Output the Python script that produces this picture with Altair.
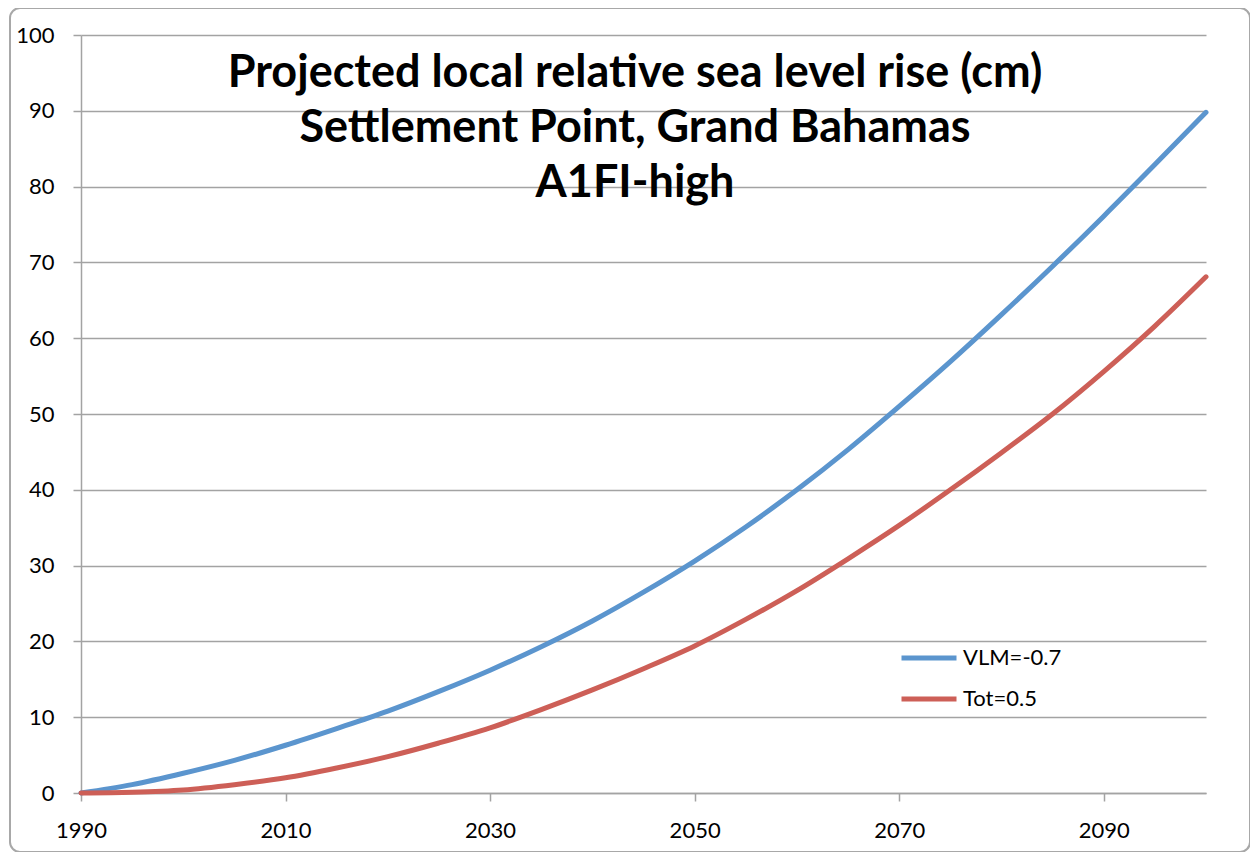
import altair as alt
import pandas as pd

# ---- data ----
years = [1990, 1995, 2000, 2005, 2010, 2015, 2020, 2025, 2030, 2035, 2040, 2045,
         2050, 2055, 2060, 2065, 2070, 2075, 2080, 2085, 2090, 2095, 2100]
vlm_values = [0.0, 1.1, 2.6, 4.3, 6.3, 8.5, 10.8, 13.4, 16.2, 19.3, 22.7, 26.5,
              30.6, 35.1, 40.0, 45.3, 51.0, 56.9, 63.1, 69.5, 76.1, 82.9, 89.8]
tot_values = [0.0, 0.1, 0.4, 1.1, 2.0, 3.3, 4.8, 6.6, 8.6, 11.0, 13.6, 16.4,
              19.4, 22.9, 26.7, 30.9, 35.3, 40.0, 44.9, 50.0, 55.6, 61.6, 68.1]
series_names = ["VLM=-0.7", "Tot=0.5"]
series_colors = ["#5B95CE", "#CD5F57"]
x_tick_values = [1990, 2010, 2030, 2050, 2070, 2090]
y_tick_values = [0, 10, 20, 30, 40, 50, 60, 70, 80, 90, 100]
title_lines = ["Projected local relative sea level rise (cm)",
               "Settlement Point, Grand Bahamas",
               "A1FI-high"]

df = pd.DataFrame({
    "year": years + years,
    "value": vlm_values + tot_values,
    "series": [series_names[0]] * len(years) + [series_names[1]] * len(years),
    "order": [0] * len(years) + [1] * len(years),
})

W, H = 1125, 758
GRID = "#a3a3a3"
FONT = "Lato"

lines = alt.Chart(df).mark_line(
    strokeWidth=5, strokeCap="round", strokeJoin="round", interpolate="monotone"
).encode(
    x=alt.X("year:Q",
            scale=alt.Scale(domain=[1990, 2100], nice=False, zero=False),
            axis=alt.Axis(values=x_tick_values, format="d", title=None, grid=False,
                          domainColor=GRID, domainWidth=1.5, tickColor=GRID, tickWidth=1.5,
                          tickSize=8, labelPadding=19, labelFontSize=22, labelFont=FONT,
                          labelColor="black", labelFlush=False)),
    y=alt.Y("value:Q",
            scale=alt.Scale(domain=[0, 100], nice=False, zero=True),
            axis=alt.Axis(values=y_tick_values, title=None, grid=True, gridColor=GRID,
                          gridWidth=1.5, domainColor=GRID, domainWidth=1.5, tickColor=GRID,
                          tickWidth=1.5, tickSize=8, labelPadding=19, labelFontSize=22,
                          labelFont=FONT, labelColor="black")),
    color=alt.Color("series:N",
                    scale=alt.Scale(domain=series_names, range=series_colors),
                    legend=alt.Legend(title=None, orient="none", legendX=818, legendY=593,
                                      symbolType="stroke", symbolSize=3025,
                                      symbolStrokeWidth=5, labelFontSize=22,
                                      labelFont=FONT, labelColor="black", rowPadding=-16,
                                      labelOffset=4, padding=0)),
    detail="order:N",
)

one = pd.DataFrame({"k": [0]})

title = alt.Chart(one).mark_text(
    text=title_lines, font=FONT, fontWeight="bold", fontSize=45, lineHeight=55,
    align="center", baseline="alphabetic", color="black"
).encode(x=alt.value(554), y=alt.value(52))

frame = alt.Chart(one).mark_rect(
    fillOpacity=0, stroke="#a8a8a8", strokeWidth=2, cornerRadius=10, clip=False
).encode(x=alt.value(-71), x2=alt.value(1169), y=alt.value(-27), y2=alt.value(817))

chart = alt.layer(frame, lines, title).properties(
    width=W, height=H,
    autosize=alt.AutoSizeParams(type="none"),
    padding={"left": 73, "top": 27, "right": 44, "bottom": 59},
    background="white",
).configure_view(strokeWidth=0)

chart.save("out.html", embed_options={"renderer": "svg", "actions": False})
